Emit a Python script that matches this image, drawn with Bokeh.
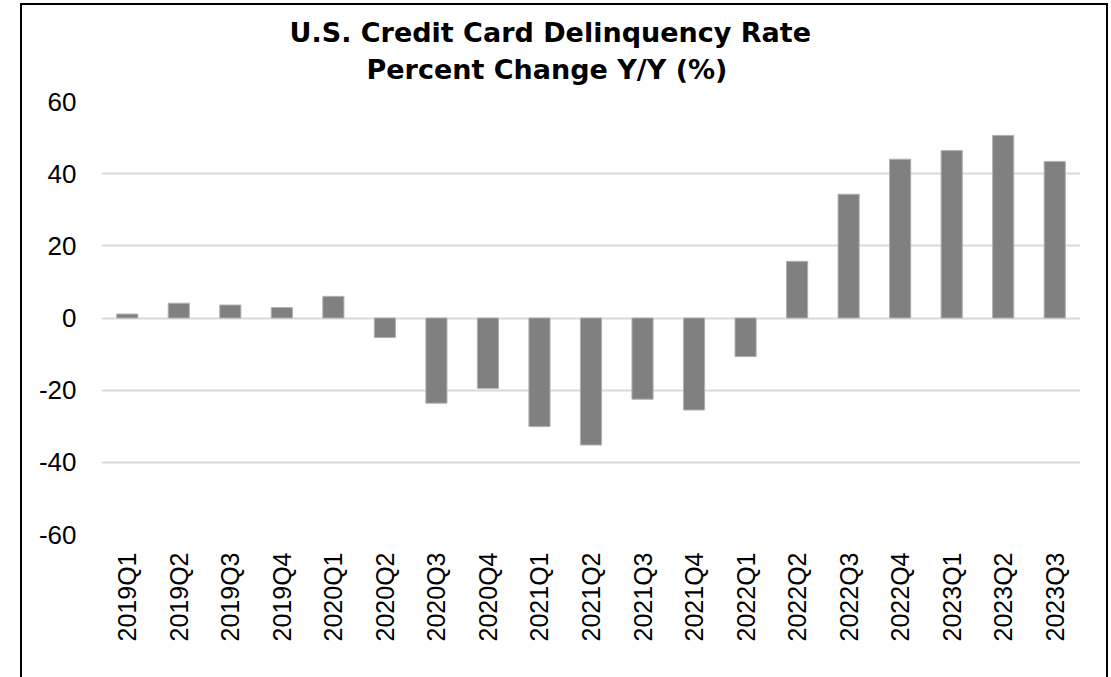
from bokeh.plotting import figure
from bokeh.models import FactorRange, FixedTicker, Title, Div
from bokeh.layouts import column
from bokeh.embed import file_html
from bokeh.resources import INLINE
import math

quarters = ["2019Q1", "2019Q2", "2019Q3", "2019Q4", "2020Q1", "2020Q2", "2020Q3",
            "2020Q4", "2021Q1", "2021Q2", "2021Q3", "2021Q4", "2022Q1", "2022Q2",
            "2022Q3", "2022Q4", "2023Q1", "2023Q2", "2023Q3"]
pct_change = [1.1, 4.1, 3.6, 2.9, 6.0, -5.4, -23.6, -19.5, -30.1, -35.2, -22.5,
              -25.5, -10.7, 15.7, 34.3, 44.0, 46.4, 50.6, 43.4]
y_ticks = [-60, -40, -20, 0, 20, 40, 60]
title_lines = ["U.S. Credit Card Delinquency Rate", "Percent Change Y/Y (%)"]

p = figure(x_range=FactorRange(*quarters, range_padding=0), y_range=(-60, 60),
           width=1111, height=677, frame_width=979, frame_height=433,
           min_border_left=101, min_border_right=31, min_border_top=101, min_border_bottom=143,
           output_backend="svg", toolbar_location=None, title=None)
p.outline_line_color = None

# line 2 first (closest to the frame), then line 1 above it
t2 = Title(text=title_lines[1], align="left", offset=265, text_font="DejaVu Sans",
           text_font_style="bold", text_font_size="27px", text_color="#000000", standoff=34)
t1 = Title(text=title_lines[0], align="left", offset=188, text_font="DejaVu Sans",
           text_font_style="bold", text_font_size="27px", text_color="#000000", standoff=-26)
p.add_layout(t2, "above")
p.add_layout(t1, "above")

p.vbar(x=quarters, top=pct_change, width=0.41, fill_color="#808080",
       line_color="#b0b0b0", line_width=1)

p.yaxis.ticker = FixedTicker(ticks=y_ticks)
p.yaxis.major_label_overrides = {t: str(t) for t in y_ticks}
for ax in (p.xaxis, p.yaxis):
    ax.axis_line_color = None
    ax.major_tick_line_color = None
    ax.minor_tick_line_color = None
    ax.major_label_text_font = "Liberation Sans"
    ax.major_label_text_color = "#000000"
p.yaxis.major_label_text_font_size = "26px"
p.xaxis.major_label_text_font_size = "25px"
p.yaxis.major_label_standoff = 19
p.xaxis.major_label_standoff = 12
p.xaxis.major_label_orientation = math.pi / 2

p.xgrid.grid_line_color = None
p.ygrid.grid_line_color = "#d9d9d9"
p.ygrid.grid_line_width = 2
p.ygrid.ticker = FixedTicker(ticks=y_ticks)

frame_div = Div(text='<div style="position:fixed;left:20px;top:3px;width:1088px;height:720px;'
                     'border:2px solid #000;box-sizing:border-box;pointer-events:none;"></div>',
                width=1, height=1)

layout = column(p, frame_div)
open("out.html", "w").write(file_html(layout, INLINE))
